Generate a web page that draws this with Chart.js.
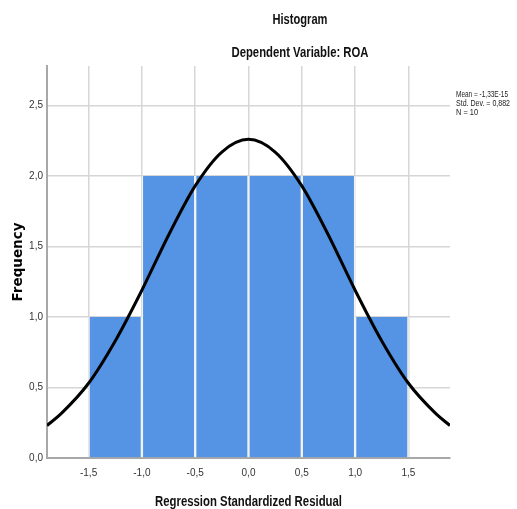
<!DOCTYPE html>
<html>
<head>
    <title>Histogram</title>
    <script src="https://cdn.jsdelivr.net/npm/chart.js"></script>
    <style>
        body { margin: 0; background: #fff; }
        .chart-container { width: 517px; height: 509px; }
    </style>
</head>
<body>
    <div class="chart-container">
        <canvas id="hist-chart" width="517" height="509"></canvas>
    </div>

    <script>
        // bin centres and counts (bin width 0.5)
        const binCenters = [-1.25, -0.75, -0.25, 0.25, 0.75, 1.25];
        const binCounts = [1, 2, 2, 2, 2, 1];

        // normal curve
        const curveX = [-1.89, -1.75, -1.5, -1.25, -1.0, -0.75, -0.5, -0.25, 0, 0.25, 0.5, 0.75, 1.0, 1.25, 1.5, 1.75, 1.89];
        const curveY = [0.23, 0.32, 0.53, 0.83, 1.19, 1.58, 1.93, 2.17, 2.26, 2.17, 1.93, 1.58, 1.19, 0.83, 0.53, 0.32, 0.23];

        const xTicks = [-1.5, -1.0, -0.5, 0, 0.5, 1.0, 1.5];
        const yTicks = [0, 0.5, 1.0, 1.5, 2.0, 2.5];

        const titleLines = ['Histogram', 'Dependent Variable: ROA'];
        const xTitle = 'Regression Standardized Residual';
        const statLines = ['Mean = -1,33E-15', 'Std. Dev. = 0,882', 'N = 10'];

        const sans = "'Liberation Sans', Arial, sans-serif";
        const comma = v => Number(v).toFixed(1).replace('.', ',');

        // no narrow font available, so squeeze the text horizontally to a given width
        function narrowText(ctx, text, x, y, font, width, align) {
            ctx.save();
            ctx.font = font;
            const k = width / ctx.measureText(text).width;
            ctx.translate(x, y);
            ctx.scale(k, 1);
            ctx.textAlign = align;
            ctx.textBaseline = 'middle';
            ctx.fillText(text, 0, 0);
            ctx.restore();
        }

        // titles and the stats box are drawn by hand, SPSS puts them off-centre
        const textPlugin = {
            id: 'spssText',
            afterDraw(chart) {
                const ctx = chart.ctx;
                const area = chart.chartArea;
                ctx.save();
                ctx.fillStyle = '#111';
                narrowText(ctx, titleLines[0], 300, 20, 'bold 15px ' + sans, 55, 'center');
                narrowText(ctx, titleLines[1], 300, 53, 'bold 15px ' + sans, 137, 'center');
                narrowText(ctx, xTitle, (area.left + area.right) / 2, 502, 'bold 14.5px ' + sans, 187, 'center');
                ctx.fillStyle = '#222';
                narrowText(ctx, statLines[0], 456, 95, '8.5px ' + sans, 52, 'left');
                narrowText(ctx, statLines[1], 456, 104, '8.5px ' + sans, 54, 'left');
                narrowText(ctx, statLines[2], 456, 113, '8.5px ' + sans, 22, 'left');
                ctx.restore();
            }
        };

        const ctx = document.getElementById('hist-chart').getContext('2d');
        const histChart = new Chart(ctx, {
            type: 'bar',
            data: {
                datasets: [{
                    type: 'line',
                    data: curveX.map((x, i) => ({ x: x, y: curveY[i] })),
                    borderColor: '#000',
                    borderWidth: 3,
                    pointRadius: 0,
                    cubicInterpolationMode: 'monotone',
                    fill: false,
                    order: 0
                },
                {
                    data: binCenters.map((x, i) => ({ x: x, y: binCounts[i] })),
                    backgroundColor: '#5594e4',
                    borderColor: '#f2f2f2',
                    borderWidth: { left: 1.5, right: 1.5, top: 0, bottom: 0 },
                    borderSkipped: false,
                    barPercentage: 1,
                    categoryPercentage: 1,
                    order: 1
                }]
            },
            options: {
                responsive: false,
                animation: false,
                layout: { padding: { top: 66, right: 67, left: 0, bottom: 0 } },
                plugins: {
                    legend: { display: false },
                    tooltip: { enabled: false }
                },
                scales: {
                    x: {
                        type: 'linear',
                        min: -1.89,
                        max: 1.89,
                        offset: false,
                        afterBuildTicks: s => { s.ticks = xTicks.map(v => ({ value: v })); },
                        afterFit: s => { s.height = 51; },
                        grid: { color: '#d6d6d6', lineWidth: 1.5, drawTicks: false, offset: false },
                        border: { color: '#a8a8a8', width: 2 },
                        ticks: {
                            callback: comma,
                            padding: 9,
                            color: '#333',
                            font: { family: sans, size: 10 }
                        }
                    },
                    y: {
                        min: 0,
                        max: 2.78,
                        afterBuildTicks: s => { s.ticks = yTicks.map(v => ({ value: v })); },
                        afterFit: s => { s.width = 47; },
                        grid: { color: '#d6d6d6', lineWidth: 1.5, drawTicks: false },
                        border: { color: '#a8a8a8', width: 2 },
                        ticks: {
                            callback: comma,
                            padding: 4,
                            color: '#333',
                            font: { family: sans, size: 10 }
                        },
                        title: {
                            display: true,
                            text: 'Frequency',
                            color: '#000',
                            padding: { top: 10, bottom: 0 },
                            font: { family: "'DejaVu Sans', sans-serif", size: 13.5, weight: 'bold' }
                        }
                    }
                }
            },
            plugins: [textPlugin]
        });
    </script>
</body>
</html>
